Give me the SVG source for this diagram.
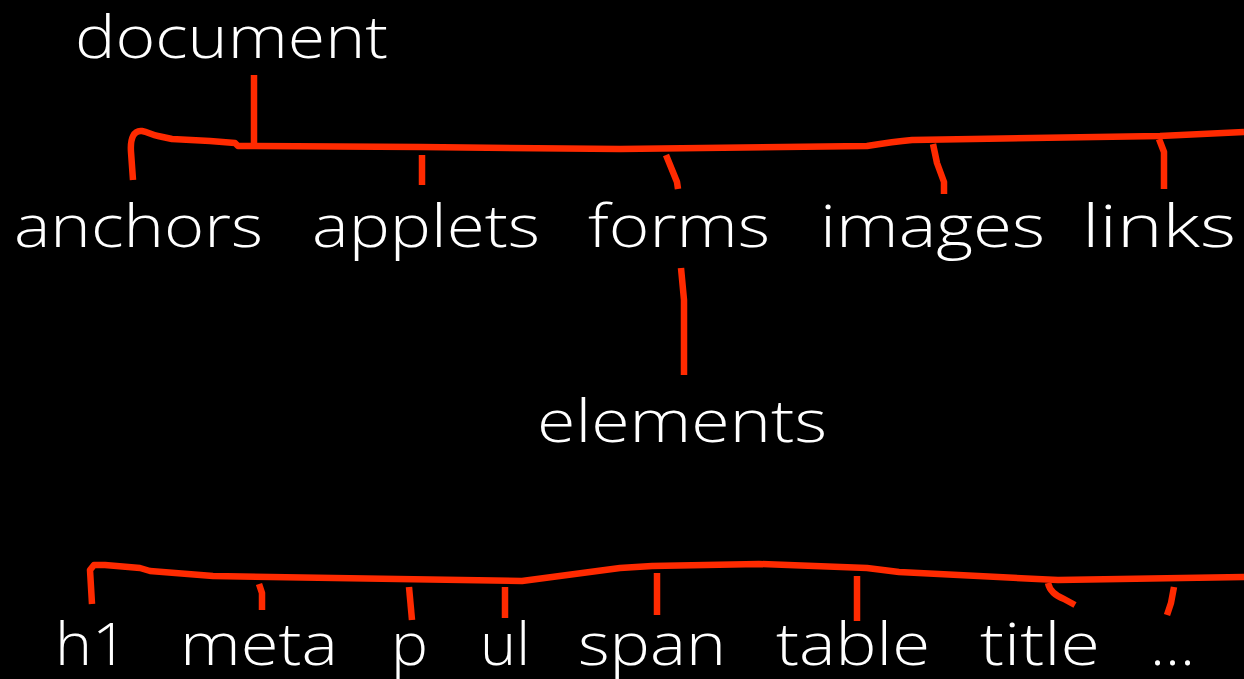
<svg xmlns="http://www.w3.org/2000/svg" width="1244" height="679" viewBox="0 0 1244 679">
<style>
.t{font-family:"Open Sans","Lato","DejaVu Sans",sans-serif;font-size:58px;font-weight:300;fill:#ffffff}
.c{fill:none;stroke:#ff2a00;stroke-width:6.5;stroke-linecap:butt;stroke-linejoin:round}
</style>
<rect width="1244" height="679" fill="#000000"/>
<g id="connectors">
<path class="c" d="M254,75 L254,145"/>
<path class="c" d="M133,180 L131,152 C130,138 134,130 142,131 C148,132 152,135 158,136 L172,139 L210,141 L235,143 L238,146 L420,147 L620,149 L867,146 C885,143 900,141 912,140 L1160,136 L1244,132"/>
<path class="c" d="M422,155 L422,185"/>
<path class="c" d="M666,155 L677,182 L678,189"/>
<path class="c" d="M933,144 L937,163 L944,182 L944,194"/>
<path class="c" d="M1159,139 L1164,152 L1164,189"/>
<path class="c" d="M681,268 L684,300 L684,375"/>
<path class="c" d="M92,604 L90,570 L94,565 L105,565 L140,568 L150,571 L213,576 L522,581 L620,568 L652,566 L759,564 L867,568 L899,572 L1058,580 L1244,577"/>
<path class="c" d="M259,584 L262,593 L262,610"/>
<path class="c" d="M409,587 L412,620"/>
<path class="c" d="M505,587 L505,618"/>
<path class="c" d="M657,573 L657,615"/>
<path class="c" d="M857,576 L857,621"/>
<path class="c" d="M1048,583 C1050,592 1056,596 1064,599 L1075,605"/>
<path class="c" d="M1174,587 L1171,603 L1167,615"/>
</g>
<g id="node-document"><text class="t" x="75" y="58" textLength="313" lengthAdjust="spacingAndGlyphs">document</text></g>
<g id="node-anchors"><text class="t" x="14" y="247" textLength="249" lengthAdjust="spacingAndGlyphs">anchors</text></g>
<g id="node-applets"><text class="t" x="312" y="247" textLength="228" lengthAdjust="spacingAndGlyphs">applets</text></g>
<g id="node-forms"><text class="t" x="588" y="247" textLength="182" lengthAdjust="spacingAndGlyphs">forms</text></g>
<g id="node-images"><text class="t" x="820" y="247" textLength="225" lengthAdjust="spacingAndGlyphs">images</text></g>
<g id="node-links"><text class="t" x="1082" y="247" textLength="154" lengthAdjust="spacingAndGlyphs">links</text></g>
<g id="node-elements"><text class="t" x="537" y="442" textLength="290" lengthAdjust="spacingAndGlyphs">elements</text></g>
<g id="node-h1"><text class="t" x="55" y="665" textLength="73" lengthAdjust="spacingAndGlyphs">h1</text></g>
<g id="node-meta"><text class="t" x="180" y="665" textLength="158" lengthAdjust="spacingAndGlyphs">meta</text></g>
<g id="node-p"><text class="t" x="391" y="665" textLength="37" lengthAdjust="spacingAndGlyphs">p</text></g>
<g id="node-ul"><text class="t" x="480" y="665" textLength="50" lengthAdjust="spacingAndGlyphs">ul</text></g>
<g id="node-span"><text class="t" x="578" y="665" textLength="148" lengthAdjust="spacingAndGlyphs">span</text></g>
<g id="node-table"><text class="t" x="776" y="665" textLength="154" lengthAdjust="spacingAndGlyphs">table</text></g>
<g id="node-title"><text class="t" x="980" y="665" textLength="120" lengthAdjust="spacingAndGlyphs">title</text></g>
<g id="node-more"><text class="t" x="1150" y="665" textLength="45" lengthAdjust="spacingAndGlyphs">...</text></g>
</svg>
